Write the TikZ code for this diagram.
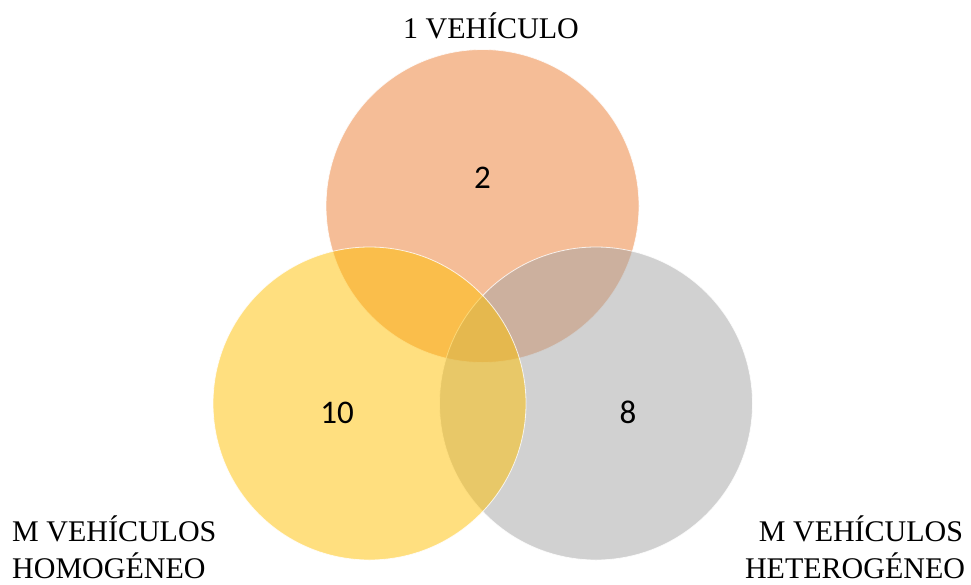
\documentclass[tikz,border=0pt]{standalone}
\usepackage{fontspec}
\setmainfont{Liberation Serif}
\newfontfamily\numfont{Carlito}
\begin{document}
\begin{tikzpicture}[x=1pt,y=-1pt,
  setcircle/.style={draw=white,line width=0.8pt,fill opacity=0.5,draw opacity=0.8},
  setlabel/.style={font=\fontsize{30}{37}\selectfont,inner sep=0pt},
  countlabel/.style={font=\numfont\fontsize{33}{40}\selectfont,inner sep=0pt}]
  \useasboundingbox (0,0) rectangle (971,584);
  % three overlapping sets
  \fill[white] (0,0) rectangle (971,584);
  \path[setcircle,fill={rgb,255:red,237;green,125;blue,49}] (482.5,206) circle[radius=156.5];
  \path[setcircle,fill={rgb,255:red,165;green,165;blue,165}] (596,403.5) circle[radius=156.5];
  \path[setcircle,fill={rgb,255:red,255;green,192;blue,0}] (369.5,403.5) circle[radius=156.5];
  % counts
  \node[countlabel,anchor=base] (n2) at (482.5,188) {2};
  \node[countlabel,anchor=base] (n10) at (337,423) {10};
  \node[countlabel,anchor=base] (n8) at (628,423) {8};
  % set names
  \node[setlabel,anchor=base] (top) at (491,38) {1 VEHÍCULO};
  \node[setlabel,anchor=base west,align=left] (left1) at (12,541) {M VEHÍCULOS};
  \node[setlabel,anchor=base west] (left2) at (12,578) {HOMOGÉNEO};
  \node[setlabel,anchor=base] (right1) at (861,541) {M VEHÍCULOS};
  \node[setlabel,anchor=base] (right2) at (855,578) {HETEROGÉNEO};
\end{tikzpicture}
\end{document}
